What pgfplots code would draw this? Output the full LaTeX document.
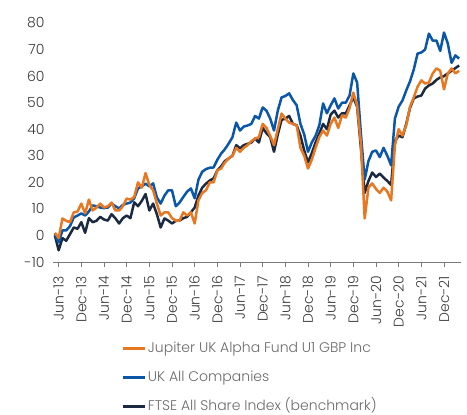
\documentclass[border=0pt]{standalone}
\usepackage{fontspec}
\setmainfont{Poppins Light}
\usepackage{pgfplots}
\pgfplotsset{compat=1.18}
\usepackage{pgfplotstable}
\definecolor{jorange}{HTML}{E87722}
\definecolor{jblue}{HTML}{0A56A8}
\definecolor{jnavy}{HTML}{1B2A41}
\definecolor{tickgray}{HTML}{3A3A3A}
\definecolor{leggray}{HTML}{6A6A6A}
\definecolor{axgray}{HTML}{7A7A7A}

\pgfplotstableread{
n v
-1 1
0 -1
1 6.4
2 5.5
3 5
4 8.7
5 9
6 12
7 8.3
8 13.5
9 9.4
10 10.5
11 12
12 10.5
13 11
14 12.4
15 9.4
16 9.4
17 11
18 13.9
19 13.5
20 14.5
21 20
22 18
23 23.5
24 19
25 17
26 12
27 7.5
28 8.7
29 8.7
30 6.5
31 5.6
32 5.6
33 8.7
34 7.5
35 8.7
36 4.5
37 13.2
38 16
39 17
40 20
41 20
42 24.5
43 25.2
44 27.5
45 29
46 30
47 33
48 31.5
49 33
50 34
51 35.5
52 36.5
53 37
54 42
55 40.5
56 37.5
57 34
58 40
59 45.9
60 44
61 42.5
62 42
63 41.4
64 33
65 30
66 25.2
67 28.5
68 33
69 37
70 39.5
71 37.6
72 42
73 44.4
74 40.5
75 45.2
76 44.4
77 48
78 53.8
79 49
80 34.6
81 6.4
82 18
83 19.6
84 17.5
85 16
86 18
87 16.5
88 13.2
89 34
90 40
91 37.6
92 41.5
93 48.5
94 52
95 56
96 58.4
97 57.2
98 57.6
99 61
100 62.9
101 62
102 55
103 61
104 62.9
105 61
106 62
}\jupiter

\pgfplotstableread{
n v
-1 0.7
0 -2.6
1 1.9
2 1.9
3 3.5
4 6.8
5 7.5
6 8.3
7 7.5
8 9
9 11.3
10 11
11 10.5
12 10.3
13 10.5
14 12
15 11
16 10.2
17 11.5
18 12
19 12.4
20 14
21 17.7
22 18.5
23 19.5
24 18.5
25 19.6
26 14.3
27 12
28 15
29 17
30 17
31 11
32 12.4
33 14.5
34 16.5
35 17.7
36 14
37 21
38 24
39 25
40 25.5
41 25.6
42 28.5
43 30.8
44 32.5
45 34.6
46 37
47 42.5
48 39.5
49 41
50 41.4
51 42
52 45
53 44
54 48.2
55 47
56 44
57 39.5
58 47
59 52
60 52.5
61 53.5
62 51
63 49
64 42
65 38
66 31.5
67 35
68 37.5
69 41.5
70 49.7
71 46
72 49
73 51.6
74 47.8
75 50
76 50
77 52.7
78 61
79 57.6
80 38.4
81 21
82 28
83 31.5
84 32
85 29.5
86 33
87 30
88 26.4
89 44
90 48.5
91 50.8
92 54.6
93 58
94 62.5
95 68.5
96 68.9
97 70
98 76
99 73.4
100 73.4
101 69.5
102 76.4
103 72.3
104 65
105 67.8
106 66.6
}\ukall

\pgfplotstableread{
n v
-1 0
0 -5.6
1 -1
2 -2
3 0.5
4 3
5 2.5
6 5
7 1
8 6.5
9 5
10 5.5
11 7
12 6
13 5.6
14 8
15 6.5
16 4.5
17 6.5
18 7.5
19 6.5
20 12.5
21 11
22 13
23 15.6
24 9.4
25 12
26 8
27 3
28 6.4
29 5.6
30 4.5
31 5.5
32 5.6
33 6.5
34 7
35 8.7
36 10.5
37 15
38 18
39 19.5
40 20.7
41 21.5
42 24.5
43 26
44 28
45 29
46 30
47 34
48 32.8
49 34
50 34.5
51 35
52 36.5
53 35
54 40.5
55 38.5
56 37
57 31.5
58 38
59 43.5
60 44
61 45
62 42
63 41.5
64 37.6
65 32
66 27.5
67 31
68 35
69 38.4
70 42
71 40
72 45.5
73 47
74 44.4
75 46
76 45.9
77 49
78 52
79 48.5
80 33
81 16
82 20.5
83 23.7
84 22
85 23.3
86 21.8
87 20.5
88 19
89 35.5
90 37.6
91 37
92 42
93 48
94 51.6
95 52.3
96 52.7
97 55.3
98 56.5
99 57.2
100 58.6
101 59.5
102 60
103 61
104 62
105 63
106 64
}\ftse

\begin{document}
\begin{tikzpicture}
\begin{axis}[
  width=408pt, height=239pt, scale only axis,
  xmin=-1.5, xmax=106.5, ymin=-10, ymax=80,
  ytick={-10,0,10,20,30,40,50,60,70,80},
  xtick={0,6,...,102},
  xticklabels={Jun-13,Dec-13,Jun-14,Dec-14,Jun-15,Dec-15,Jun-16,Dec-16,Jun-17,Dec-17,Jun-18,Dec-18,Jun-19,Dec-19,Jun-20,Dec-20,Jun-21,Dec-21},
  axis x line*=bottom, axis y line*=left,
  y axis line style={draw=none},
  ytick style={draw=none},
  x axis line style={axgray, line width=0.8pt},
  xtick style={axgray, line width=0.8pt},
  tick align=outside, major tick length=5pt,
  /pgf/number format/assume math mode=true,
  xticklabel style={rotate=90, anchor=east, xshift=-1pt, font=\fontsize{14}{16}\selectfont, text=tickgray, inner xsep=0pt, outer xsep=0pt},
  xticklabel shift=8pt,
  yticklabel style={font=\fontsize{14}{16}\selectfont, text=tickgray},
  legend cell align=left,
  legend style={draw=none, fill=none, at={(0.16,-0.318)}, anchor=north west,
     font=\fontsize{14}{16}\selectfont, text=leggray, row sep=12pt,
     nodes={text height=10pt, text depth=3pt},
     /tikz/every even column/.append style={column sep=4pt}},
  legend image code/.code={\draw[#1, line width=2.5pt] (0pt,0pt) -- (22pt,0pt);},
  line join=round,
]
\coordinate (ll) at (rel axis cs:0,0);
\coordinate (ur) at (rel axis cs:1,1);
\addlegendimage{jorange, line width=2.5pt}
\addlegendentry{Jupiter UK Alpha Fund U1 GBP Inc}
\addlegendimage{jblue, line width=2.5pt}
\addlegendentry{UK All Companies}
\addlegendimage{jnavy, line width=2.5pt}
\addlegendentry{FTSE All Share Index (benchmark)}
\addplot[jnavy, line width=2.5pt, forget plot] table[x=n, y=v] {\ftse};
\addplot[jblue, line width=2.5pt, forget plot] table[x=n, y=v] {\ukall};
\addplot[jorange, line width=2.5pt, forget plot] table[x=n, y=v] {\jupiter};
\end{axis}
\pgfresetboundingbox
\path ([shift={(-53pt,-152pt)}]ll) rectangle ([shift={(6pt,23pt)}]ur);
\end{tikzpicture}
\end{document}
